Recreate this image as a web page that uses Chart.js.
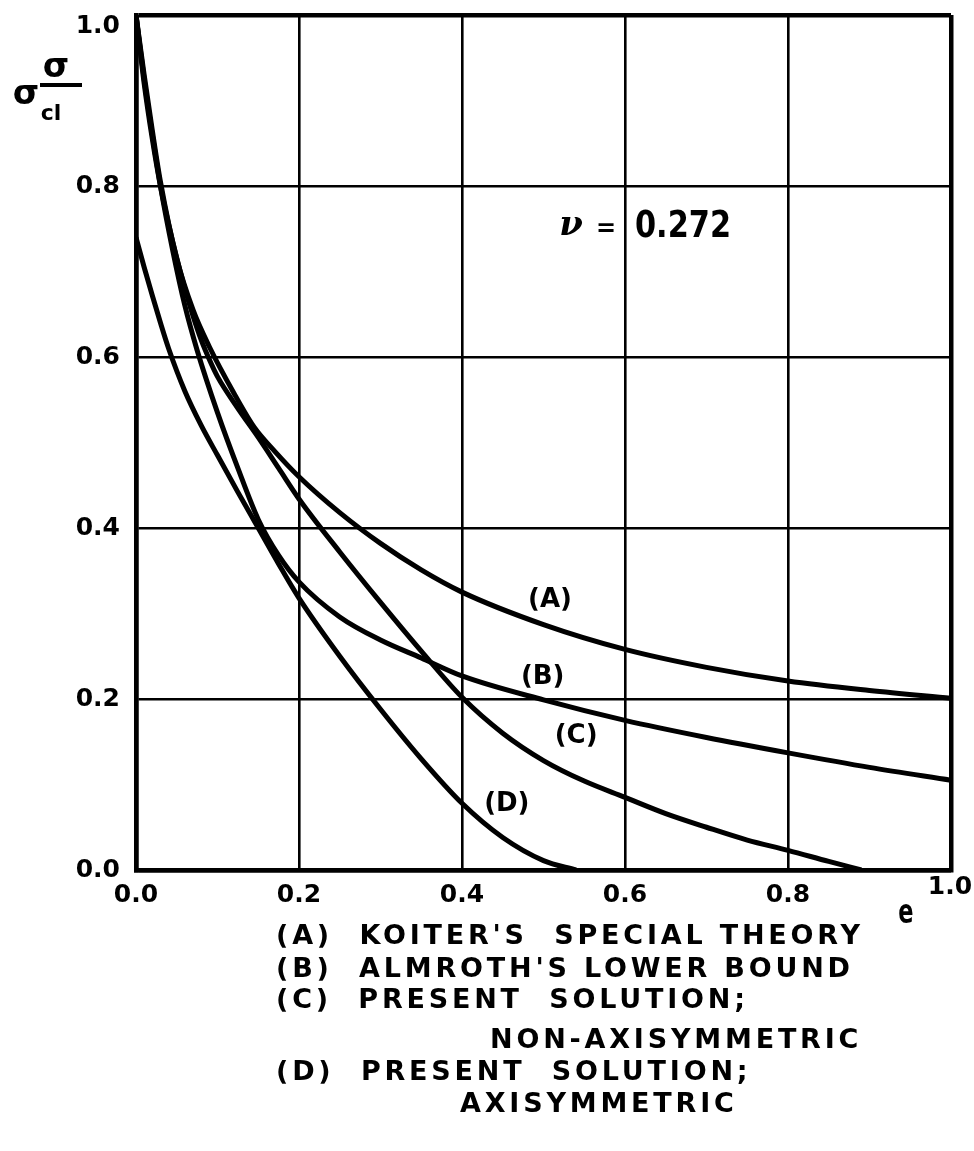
<!DOCTYPE html>
<html>
<head>
<meta charset="utf-8">
<style>
html,body{margin:0;padding:0;background:#fff;}
#wrap{width:974px;height:1151px;position:relative;}
canvas{display:block;}
</style>
<script src="https://cdn.jsdelivr.net/npm/chart.js@4.4.1/dist/chart.umd.min.js"></script>
</head>
<body>
<div id="wrap"><canvas id="c" width="974" height="1151"></canvas></div>
<script>
// ---- data ----
const xTickValues = [0, 0.2, 0.4, 0.6, 0.8, 1.0];
const yTickValues = [0, 0.2, 0.4, 0.6, 0.8, 1.0];

// (A) Koiter's special theory
const xA = [0, 0.01, 0.02, 0.03, 0.05, 0.07, 0.09, 0.12, 0.145, 0.17, 0.2, 0.25, 0.3, 0.35, 0.4, 0.5, 0.6, 0.7, 0.8, 0.9, 1.0];
const yA = [1.0, 0.93, 0.865, 0.805, 0.715, 0.655, 0.612, 0.558, 0.518, 0.49, 0.46, 0.418, 0.382, 0.351, 0.325, 0.287, 0.258, 0.237, 0.221, 0.21, 0.201];
// (B) Almroth's lower bound
const xB = [0, 0.01, 0.02, 0.03, 0.045, 0.06, 0.075, 0.1, 0.125, 0.15, 0.175, 0.2, 0.25, 0.3, 0.35, 0.4, 0.5, 0.6, 0.7, 0.8, 0.9, 1.0];
const yB = [1.0, 0.925, 0.86, 0.80, 0.725, 0.66, 0.608, 0.535, 0.47, 0.41, 0.368, 0.337, 0.296, 0.269, 0.248, 0.227, 0.199, 0.175, 0.155, 0.137, 0.12, 0.105];
// (C) Present solution; non-axisymmetric
const xC = [0, 0.01, 0.02, 0.03, 0.045, 0.06, 0.07, 0.08, 0.09, 0.1, 0.125, 0.15, 0.175, 0.2, 0.25, 0.3, 0.35, 0.4, 0.45, 0.5, 0.55, 0.6, 0.65, 0.7, 0.75, 0.8, 0.85, 0.89];
const yC = [1.0, 0.92, 0.855, 0.80, 0.735, 0.68, 0.648, 0.62, 0.597, 0.577, 0.54, 0.506, 0.47, 0.434, 0.372, 0.313, 0.256, 0.202, 0.16, 0.128, 0.104, 0.085, 0.066, 0.05, 0.035, 0.023, 0.01, 0.0];
// (D) Present solution; axisymmetric
const xD = [0, 0.01, 0.02, 0.03, 0.04, 0.06, 0.08, 0.1, 0.125, 0.15, 0.175, 0.2, 0.25, 0.3, 0.35, 0.4, 0.45, 0.5, 0.54];
const yD = [0.74, 0.705, 0.672, 0.64, 0.61, 0.56, 0.52, 0.485, 0.442, 0.4, 0.358, 0.318, 0.25, 0.188, 0.13, 0.078, 0.038, 0.011, 0.0];

const curveNames = ['(A)', '(B)', '(C)', '(D)'];
const curveLabelX = [0.508, 0.499, 0.540, 0.455];
const curveLabelY = [0.316, 0.226, 0.156, 0.077];

const poissonText = ['ν', '=', '0.272'];
const xTitle = 'e';
const legendLines = [
  "(A)  KOITER'S  SPECIAL THEORY",
  "(B)  ALMROTH'S LOWER BOUND",
  "(C)  PRESENT  SOLUTION;",
  "NON-AXISYMMETRIC",
  "(D)  PRESENT  SOLUTION;",
  "AXISYMMETRIC"
];

// ---- layout (pixels) ----
const legendPos = [[276, 937], [276, 970], [276, 1001], [490, 1041], [276, 1073], [460, 1105]];

function pts(xs, ys) { return xs.map((x, i) => ({x: x, y: ys[i]})); }

const FONT = '"DejaVu Sans", "Liberation Sans", sans-serif';

// nudge the two "1.0" end labels like the original lettering
const labelNudge = {
  id: 'labelNudge',
  beforeDraw(chart) {
    const ys = chart.scales.y, xs = chart.scales.x;
    ys.getLabelItems().forEach(it => { if (it.label === '1.0') it.options.translation[1] += 11; });
    xs.getLabelItems().forEach(it => { if (it.label === '1.0') { it.options.translation[1] -= 8; it.options.translation[0] -= 1; } });
  }
};

const textPlugin = {
  id: 'texts',
  afterDraw(chart) {
    const ctx = chart.ctx, xs = chart.scales.x, ys = chart.scales.y;
    ctx.save();
    ctx.fillStyle = '#000';
    ctx.strokeStyle = '#000';
    ctx.textBaseline = 'middle';

    // curve labels
    ctx.font = 'bold 26px ' + FONT;
    ctx.textAlign = 'center';
    curveNames.forEach((t, i) => {
      ctx.fillText(t, xs.getPixelForValue(curveLabelX[i]), ys.getPixelForValue(curveLabelY[i]));
    });

    // nu = 0.272
    ctx.font = 'italic bold 34px "DejaVu Serif", serif';
    ctx.fillText(poissonText[0], 571, 226);
    ctx.font = 'bold 24px ' + FONT;
    ctx.fillText(poissonText[1], 606, 230);
    ctx.font = 'bold 38px ' + FONT;
    ctx.textAlign = 'left';
    let w = ctx.measureText(poissonText[2]).width;
    ctx.save();
    ctx.translate(635, 227);
    ctx.scale(96 / w, 1);
    ctx.fillText(poissonText[2], 0, 0);
    ctx.restore();

    // x axis title
    ctx.font = 'bold 30px ' + FONT;
    ctx.textAlign = 'center';
    ctx.save();
    ctx.translate(906, 914);
    ctx.scale(0.75, 1.15);
    ctx.fillText(xTitle, 0, 0);
    ctx.restore();

    // y axis title sigma / sigma_cl
    ctx.font = 'bold 34px ' + FONT;
    ctx.fillText('σ', 56, 68);
    ctx.fillText('σ', 26, 95);
    ctx.font = 'bold 22px ' + FONT;
    ctx.fillText('cl', 51, 114);
    ctx.lineWidth = 4;
    ctx.beginPath();
    ctx.moveTo(40, 85);
    ctx.lineTo(82, 85);
    ctx.stroke();

    // legend
    ctx.font = 'bold 27px ' + FONT;
    ctx.textAlign = 'left';
    ctx.letterSpacing = '3.8px';
    legendLines.forEach((t, i) => ctx.fillText(t, legendPos[i][0], legendPos[i][1]));
    ctx.restore();
  }
};

const edgeWidth = (ctx) => (ctx.tick && (Math.abs(ctx.tick.value) < 1e-9 || Math.abs(ctx.tick.value - 1) < 1e-9)) ? 4.5 : 2.6;

const lineStyle = {borderColor: '#000', borderWidth: 5, pointRadius: 0, fill: false, cubicInterpolationMode: 'monotone', tension: 0.4};

new Chart(document.getElementById('c'), {
  type: 'line',
  data: {
    datasets: [
      Object.assign({label: 'A', data: pts(xA, yA)}, lineStyle),
      Object.assign({label: 'B', data: pts(xB, yB)}, lineStyle),
      Object.assign({label: 'C', data: pts(xC, yC)}, lineStyle),
      Object.assign({label: 'D', data: pts(xD, yD)}, lineStyle)
    ]
  },
  options: {
    responsive: false,
    animation: false,
    devicePixelRatio: 1,
    layout: {padding: {left: 0, top: 15, right: 23, bottom: 0}},
    plugins: {legend: {display: false}, tooltip: {enabled: false}},
    scales: {
      x: {
        type: 'linear', min: 0, max: 1,
        afterFit: (s) => { s.height = 281; s.paddingLeft = 0; s.paddingRight = 0; s.paddingTop = 0; s.paddingBottom = 0; },
        afterBuildTicks: (s) => { s.ticks = xTickValues.map(v => ({value: v})); },
        ticks: {color: '#000', padding: 10, maxRotation: 0, font: {family: FONT, size: 25, weight: 'bold'}, callback: (v) => v.toFixed(1)},
        grid: {color: '#000', lineWidth: edgeWidth, drawTicks: false},
        border: {display: true, color: '#000', width: 4.5}
      },
      y: {
        type: 'linear', min: 0, max: 1,
        afterFit: (s) => { s.width = 136; s.paddingLeft = 0; s.paddingRight = 0; s.paddingTop = 0; s.paddingBottom = 0; },
        afterBuildTicks: (s) => { s.ticks = yTickValues.map(v => ({value: v})); },
        ticks: {color: '#000', padding: 16, font: {family: FONT, size: 25, weight: 'bold'}, callback: (v) => v.toFixed(1)},
        grid: {color: '#000', lineWidth: edgeWidth, drawTicks: false},
        border: {display: true, color: '#000', width: 4.5}
      }
    }
  },
  plugins: [labelNudge, textPlugin]
});
</script>
</body>
</html>
